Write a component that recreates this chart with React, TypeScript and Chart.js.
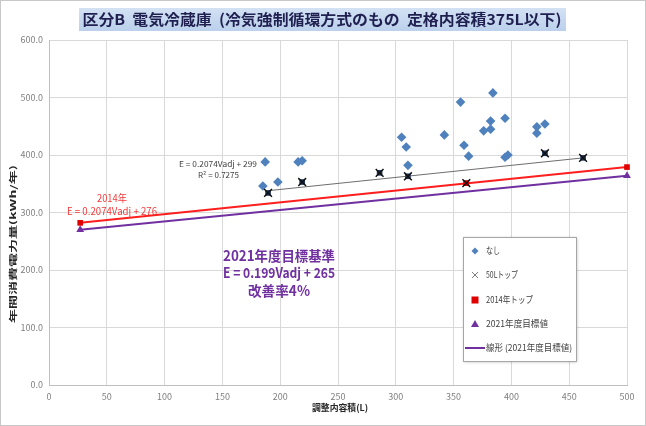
import React, { useEffect, useRef } from "react";
import { Chart, registerables } from "chart.js";

Chart.register(...registerables);

const FONT = '"Noto Sans CJK JP", "Noto Sans", sans-serif';

// Data
const nashiX = [185, 187, 198, 215.5, 219, 305, 309, 310.5, 342, 356, 359, 363, 376, 382, 382, 384, 394.5, 394.5, 397, 422, 422, 429];
const nashiY = [346, 388, 353, 388, 390, 431, 414, 382, 435, 492, 417, 398, 442, 445, 459, 508, 464, 396, 400, 438, 449, 454];

const top50X = [189.5, 219, 286, 310.5, 361, 429, 462];
const top50Y = [334, 353, 369, 363, 351, 403, 395];

const top2014X = [27, 361, 500];
const top2014Y = [282, 351, 379];

const target2021X = [27, 500];
const target2021Y = [270, 364];

const line2014X = [27, 500];
const line2014Y = [282, 379];

const line2021X = [27, 500];
const line2021Y = [270, 364];

const trendX = [190, 462];
const trendY = [338, 395];

const xTicks = [0, 50, 100, 150, 200, 250, 300, 350, 400, 450, 500];
const yTicks = [0, 100, 200, 300, 400, 500, 600];

const titleText = "区分B  電気冷蔵庫  (冷気強制循環方式のもの  定格内容積375L以下)";
const xTitle = "調整内容積(L)";
const yTitle = "年間消費電力量(kWh/年)";
const legendLabels = ["なし", "50Lトップ", "2014年トップ", "2021年度目標値", "線形 (2021年度目標値)"];

const pts = (xs: number[], ys: number[]) => xs.map((x, i) => ({ x, y: ys[i] }));

function fitText(
  ctx: CanvasRenderingContext2D,
  text: string,
  x: number,
  y: number,
  width: number,
  font: string,
  color: string,
  rotate = false
) {
  ctx.save();
  ctx.font = font;
  ctx.fillStyle = color;
  ctx.textAlign = "center";
  ctx.textBaseline = "middle";
  const w = ctx.measureText(text).width;
  let s = width / w;
  s = Math.max(0.6, Math.min(2.2, s));
  ctx.translate(x, y);
  if (rotate) ctx.rotate(-Math.PI / 2);
  ctx.scale(s, 1);
  ctx.fillText(text, 0, 0);
  ctx.restore();
}

const overlayPlugin = {
  id: "overlay",
  beforeDraw(chart: any) {
    const ctx: CanvasRenderingContext2D = chart.ctx;
    ctx.save();
    ctx.fillStyle = "#ffffff";
    ctx.fillRect(0, 0, chart.width, chart.height);
    ctx.strokeStyle = "#C8C8C8";
    ctx.lineWidth = 1;
    ctx.strokeRect(0.5, 0.5, chart.width - 1, chart.height - 1);
    ctx.restore();
  },
  afterDraw(chart: any) {
    const ctx: CanvasRenderingContext2D = chart.ctx;
    // Title
    ctx.save();
    const g = ctx.createLinearGradient(0, 8, 0, 31);
    g.addColorStop(0, "#D3E1F3");
    g.addColorStop(1, "#BBD0EC");
    ctx.fillStyle = g;
    ctx.fillRect(79, 8, 487, 23);
    ctx.restore();
    fitText(ctx, titleText, 322, 19.5, 479, `bold 15px ${FONT}`, "#1F2050");

    // Axis titles
    fitText(ctx, xTitle, 340, 408, 56, `bold 9px ${FONT}`, "#262626");
    fitText(ctx, yTitle, 13, 244, 158, `bold 8px ${FONT}`, "#262626", true);

    // Trendline annotation
    fitText(ctx, "E = 0.2074Vadj + 299", 218, 164, 78, `8px ${FONT}`, "#404040");
    fitText(ctx, "R² = 0.7275", 218.5, 175, 41, `8px ${FONT}`, "#404040");

    // 2014 annotation
    fitText(ctx, "2014年", 112, 198, 30, `10px ${FONT}`, "#F03A3A");
    fitText(ctx, "E = 0.2074Vadj + 276", 112, 211, 90, `10px ${FONT}`, "#F03A3A");

    // 2021 annotation
    fitText(ctx, "2021年度目標基準", 279, 256, 112, `bold 14px ${FONT}`, "#7030A0");
    fitText(ctx, "E = 0.199Vadj + 265", 279, 273, 112, `bold 14px ${FONT}`, "#7030A0");
    fitText(ctx, "改善率4%", 279, 291, 62, `bold 14px ${FONT}`, "#7030A0");

    // Legend
    ctx.save();
    ctx.shadowColor = "rgba(0,0,0,0.25)";
    ctx.shadowBlur = 3;
    ctx.shadowOffsetX = 1;
    ctx.shadowOffsetY = 1;
    ctx.fillStyle = "#ffffff";
    ctx.fillRect(463, 237, 113, 124);
    ctx.restore();
    ctx.save();
    ctx.strokeStyle = "#A6A6A6";
    ctx.lineWidth = 1;
    ctx.strokeRect(463.5, 237.5, 113, 124);
    const ys = [251, 275, 300, 324, 348];
    const mx = 475;
    ctx.fillStyle = "#4F81BD";
    ctx.beginPath();
    ctx.moveTo(mx, ys[0] - 3.5);
    ctx.lineTo(mx + 3.5, ys[0]);
    ctx.lineTo(mx, ys[0] + 3.5);
    ctx.lineTo(mx - 3.5, ys[0]);
    ctx.closePath();
    ctx.fill();
    ctx.strokeStyle = "#7F7F7F";
    ctx.lineWidth = 1;
    ctx.beginPath();
    ctx.moveTo(mx - 3, ys[1] - 3);
    ctx.lineTo(mx + 3, ys[1] + 3);
    ctx.moveTo(mx + 3, ys[1] - 3);
    ctx.lineTo(mx - 3, ys[1] + 3);
    ctx.stroke();
    ctx.fillStyle = "#E00000";
    ctx.fillRect(mx - 3.5, ys[2] - 3.5, 7, 7);
    ctx.fillStyle = "#7030A0";
    ctx.beginPath();
    ctx.moveTo(mx, ys[3] - 4);
    ctx.lineTo(mx + 4, ys[3] + 3);
    ctx.lineTo(mx - 4, ys[3] + 3);
    ctx.closePath();
    ctx.fill();
    ctx.strokeStyle = "#7030A0";
    ctx.lineWidth = 2;
    ctx.beginPath();
    ctx.moveTo(465, ys[4]);
    ctx.lineTo(485, ys[4]);
    ctx.stroke();
    ctx.restore();
    const widths = [14, 32, 47, 62, 86];
    legendLabels.forEach((t, i) => {
      fitText(ctx, t, 486 + widths[i] / 2, ys[i], widths[i], `9px ${FONT}`, "#404040");
    });
  },
};

export default function App() {
  const ref = useRef<HTMLCanvasElement | null>(null);
  useEffect(() => {
    if (!ref.current) return;
    const lineDs = (label: string, xs: number[], ys: number[], color: string, width: number) => ({
      type: "line" as const,
      label,
      data: pts(xs, ys),
      showLine: true,
      borderColor: color,
      backgroundColor: color,
      borderWidth: width,
      pointRadius: 0,
      order: 10,
      clip: false as any,
    });
    const chart = new Chart(ref.current, {
      type: "scatter",
      data: {
        datasets: [
          lineDs("線形 (2014年)", line2014X, line2014Y, "#FF1E1E", 2),
          lineDs("線形 (2021年度目標値)", line2021X, line2021Y, "#7030A0", 2),
          lineDs("線形 (50Lトップ)", trendX, trendY, "#6E6E6E", 1),
          {
            label: "なし",
            data: pts(nashiX, nashiY),
            pointStyle: "rectRot",
            pointRadius: 4.8,
            backgroundColor: "#4F81BD",
            borderColor: "#4F81BD",
            borderWidth: 0,
            order: 8,
            clip: false as any,
          },
          {
            label: "50Lトップ (背景)",
            data: pts(top50X, top50Y),
            pointStyle: "rect",
            pointRadius: 4,
            backgroundColor: "#1F3864",
            borderColor: "#1F3864",
            borderWidth: 0,
            order: 7,
            clip: false as any,
          },
          {
            label: "2014年トップ",
            data: pts(top2014X, top2014Y),
            pointStyle: "rect",
            pointRadius: 4,
            backgroundColor: "#E00000",
            borderColor: "#C00000",
            borderWidth: 0,
            order: 5,
            clip: false as any,
          },
          {
            label: "2021年度目標値",
            data: pts(target2021X, target2021Y),
            pointStyle: "triangle",
            pointRadius: 4.5,
            backgroundColor: "#7030A0",
            borderColor: "#7030A0",
            borderWidth: 0,
            order: 5,
            clip: false as any,
          },
          {
            label: "50Lトップ",
            data: pts(top50X, top50Y),
            pointStyle: "crossRot",
            pointRadius: 5.5,
            backgroundColor: "#000000",
            borderColor: "#111111",
            borderWidth: 1.5,
            order: 1,
            clip: false as any,
          },
        ] as any,
      },
      options: {
        animation: false,
        responsive: false,
        devicePixelRatio: 1,
        layout: { padding: { top: 40, right: 19, left: 0, bottom: 0 } },
        plugins: { legend: { display: false }, tooltip: { enabled: false }, title: { display: false } },
        scales: {
          x: {
            type: "linear",
            min: 0,
            max: 500,
            afterFit: (s: any) => {
              s.height = 41;
            },
            afterBuildTicks: (s: any) => {
              s.ticks = xTicks.map((v) => ({ value: v }));
            },
            ticks: { font: { family: FONT, size: 9 }, color: "#7F7F7F", padding: 6, maxRotation: 0 },
            grid: { color: "#D9D9D9", lineWidth: 1, drawTicks: false },
            border: { color: "#BFBFBF" },
          },
          y: {
            type: "linear",
            min: 0,
            max: 600,
            afterFit: (s: any) => {
              s.width = 49;
            },
            afterBuildTicks: (s: any) => {
              s.ticks = yTicks.map((v) => ({ value: v }));
            },
            ticks: {
              font: { family: FONT, size: 9 },
              color: "#7F7F7F",
              padding: 6,
              callback: (v: any) => Number(v).toFixed(1),
            },
            grid: { color: "#D9D9D9", lineWidth: 1, drawTicks: false },
            border: { color: "#BFBFBF" },
          },
        },
      } as any,
      plugins: [overlayPlugin],
    });
    return () => chart.destroy();
  }, []);
  return (
    <div style={{ position: "absolute", left: 0, top: 0, width: 646, height: 426, background: "#fff" }}>
      <canvas ref={ref} width={646} height={426} />
    </div>
  );
}
